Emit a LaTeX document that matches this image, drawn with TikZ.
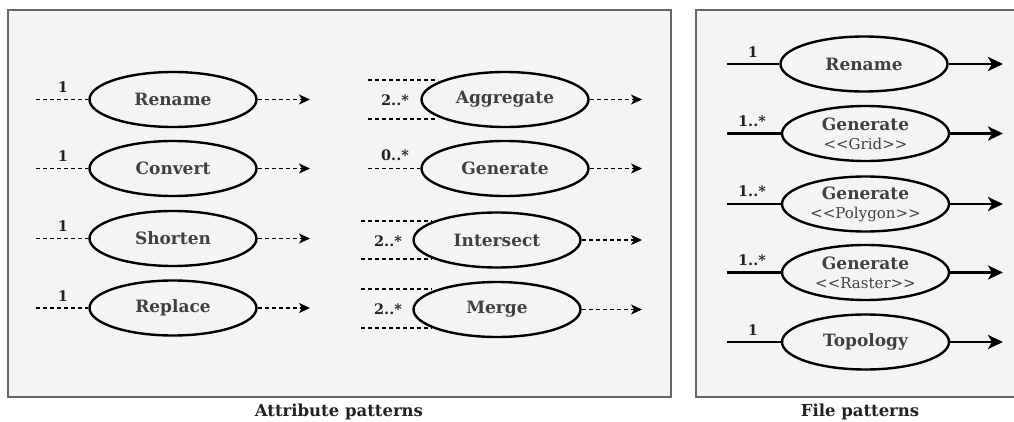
\documentclass[tikz,border=0pt]{standalone}
\usepackage{fontspec}
\setmainfont{DejaVu Serif}
\usetikzlibrary{shapes.geometric,arrows.meta}
\definecolor{panelfill}{HTML}{F4F4F4}
\definecolor{panelline}{HTML}{666666}
\definecolor{txt}{HTML}{404040}
\definecolor{lbl}{HTML}{222222}
\newcommand\subtxt[1]{{\fontsize{15}{17}\selectfont\mdseries\color{txt}#1}}
\tikzset{
  panel/.style={draw=panelline,line width=2pt,fill=panelfill},
  op/.style={ellipse,draw=black,line width=2.4pt,minimum width=167pt,minimum height=55pt,inner sep=0pt,
    font=\fontsize{17}{19}\selectfont\bfseries,text=txt,align=center},
  din/.style={dashed,dash pattern=on 4pt off 3pt,line width=1.5pt,draw=black},
  dout/.style={din,-{Stealth[length=11pt,width=10pt,inset=3pt]}},
  sin/.style={line width=2.8pt,draw=black},
  sout/.style={sin,-{Stealth[length=15pt,width=14pt,inset=4pt]}},
  mult/.style={font=\fontsize{14.5}{16}\selectfont\bfseries,text=lbl,inner sep=0pt},
  captxt/.style={font=\fontsize{16.5}{18}\selectfont\bfseries,text=lbl}
}
\begin{document}
\begin{tikzpicture}[x=1pt,y=-1pt]
\useasboundingbox (0,0) rectangle (1014,422);
% panels
\draw[panel] (8,10) rectangle (670.5,397);
\draw[panel] (696,10) rectangle (1020,397);
\node[captxt] (capA) at (339,412) {Attribute patterns};
\node[captxt] (capF) at (860,412) {File patterns};

% ---- left column of attribute patterns
\foreach \nm/\txt/\yy in {rn/Rename/99.5, cv/Convert/168.5, sh/Shorten/238.5, rp/Replace/308}{
  \node[op] (\nm) at (173,\yy) {\txt};
  \coordinate (\nm-in) at (36,\yy);
  \coordinate (\nm-out) at (310,\yy);
  \draw[din] (\nm-in) -- (\nm.west);
  \draw[dout] (\nm.east) -- (\nm-out);
  \node[mult] (\nm-m) at (63,\yy-12) {1};
}

% ---- right column of attribute patterns
\node[op] (ag) at (505,99.5) {Aggregate};
\node[op] (ge) at (505,168.5) {Generate};
\node[op] (is) at (497,240) {Intersect};
\node[op] (mg) at (497,309.5) {Merge};

\coordinate (ag-a1) at (368,80);  \coordinate (ag-a2) at (438,80);
\coordinate (ag-b1) at (368,119); \coordinate (ag-b2) at (438,119);
\draw[din] (ag-a1) -- (ag-a2);
\draw[din] (ag-b1) -- (ag-b2);
\node[mult] (ag-m) at (395,100) {2..*};

\coordinate (ge-in) at (368,168.5);
\draw[din] (ge-in) -- (ge.west);
\node[mult] (ge-m) at (395,155) {0..*};

\coordinate (is-a1) at (361,221); \coordinate (is-a2) at (432,221);
\coordinate (is-b1) at (361,259); \coordinate (is-b2) at (432,259);
\draw[din] (is-a1) -- (is-a2);
\draw[din] (is-b1) -- (is-b2);
\node[mult] (is-m) at (388,241) {2..*};

\coordinate (mg-a1) at (361,289); \coordinate (mg-a2) at (432,289);
\coordinate (mg-b1) at (361,328); \coordinate (mg-b2) at (432,328);
\draw[din] (mg-a1) -- (mg-a2);
\draw[din] (mg-b1) -- (mg-b2);
\node[mult] (mg-m) at (388,309) {2..*};

\foreach \nm in {ag,ge,is,mg}{
  \coordinate (\nm-out) at (642,0 |- \nm.center);
  \draw[dout] (\nm.east) -- (\nm-out);
}

% ---- file patterns
\node[op] (frn) at (864,64) {Rename};
\node[op] (fgg) at (865.5,133.5) {Generate\\[0pt]\subtxt{<{}<Grid>{}>}};
\node[op] (fgp) at (865.5,204) {Generate\\[0pt]\subtxt{<{}<Polygon>{}>}};
\node[op] (fgr) at (865.5,272.5) {Generate\\[0pt]\subtxt{<{}<Raster>{}>}};
\node[op] (ftp) at (865.5,342) {Topology};

\foreach \nm in {frn, fgg, fgp, fgr, ftp}{
  \coordinate (\nm-in) at (727,0 |- \nm.center);
  \coordinate (\nm-out) at (1003,0 |- \nm.center);
  \draw[sin] (\nm-in) -- (\nm.west);
  \draw[sout] (\nm.east) -- (\nm-out);
}
\node[mult] (frn-m) at (753,52) {1};
\node[mult] (fgg-m) at (752,121) {1..*};
\node[mult] (fgp-m) at (752,191.5) {1..*};
\node[mult] (fgr-m) at (752,260) {1..*};
\node[mult] (ftp-m) at (753,330) {1};
\end{tikzpicture}
\end{document}
